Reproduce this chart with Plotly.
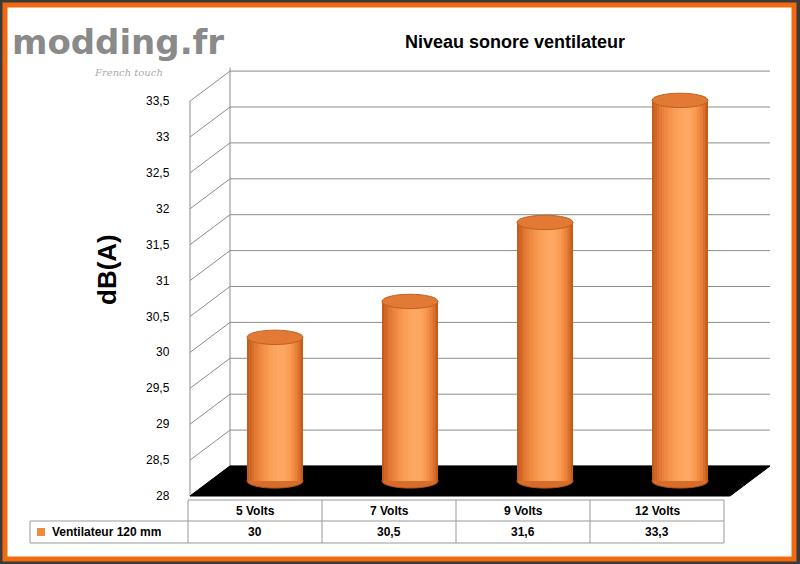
import plotly.graph_objects as go

categories = ["5 Volts", "7 Volts", "9 Volts", "12 Volts"]
values = [30, 30.5, 31.6, 33.3]
series_name = "Ventilateur 120 mm"
tick_values = [28, 28.5, 29, 29.5, 30, 30.5, 31, 31.5, 32, 32.5, 33, 33.5]
title = "Niveau sonore ventilateur"
y_title = "dB(A)"

W, H = 800, 564
Y0PX, PPU = 496, 71.8
def pv(py):
    return 28 + (Y0PX - py) / PPU
DEPTH = 30 / PPU
MID = 0.21

fig = go.Figure()
shapes = []
ann = []

shapes.append(dict(type="rect", xref="paper", yref="paper", x0=0, x1=1, y0=0, y1=1,
                   fillcolor="#3b3b3b", line=dict(width=0), layer="below"))
shapes.append(dict(type="rect", x0=5, x1=794, y0=pv(559), y1=pv(5), fillcolor="white",
                   line=dict(color="#f26a10", width=5), layer="below"))

for v in tick_values:
    shapes.append(dict(type="path", path=f"M 190,{v} L 230,{v+DEPTH} L 770,{v+DEPTH}",
                       line=dict(color="#8c8c8c", width=1), layer="below"))
shapes.append(dict(type="line", x0=230, x1=230, y0=28 + DEPTH, y1=33.5 + DEPTH + 0.05,
                   line=dict(color="#8c8c8c", width=1), layer="below"))
shapes.append(dict(type="line", x0=190, x1=190, y0=28, y1=33.5,
                   line=dict(color="#8c8c8c", width=1), layer="below"))
shapes.append(dict(type="path", path=f"M 190,28 L 730,28 L 770,{28+DEPTH} L 230,{28+DEPTH} Z",
                   fillcolor="black", line=dict(color="black", width=1), layer="below"))

xs = [275 + 135 * i for i in range(len(categories))]
for x in xs:
    shapes.append(dict(type="circle", x0=x - 28, x1=x + 28, y0=28 + MID - 0.1, y1=28 + MID + 0.1,
                       fillcolor="#d66d2a", line=dict(color="#b35418", width=1), layer="below"))

layers = [(56, "#c45d1c"), (52, "#d06626"), (48, "#da702e"), (44, "#e27935"), (40, "#e9813b"),
          (36, "#ee8840"), (32, "#f28e45"), (28, "#f5944a"), (24, "#f89a50"), (20, "#fa9f56"),
          (14, "#fba45c"), (8, "#fca862")]
for w, c in layers:
    fig.add_trace(go.Bar(x=[x + (56 - w) * 0.12 for x in xs], y=[v - 28 for v in values], base=28 + MID, width=w,
                         marker=dict(color=c, line=dict(width=0)), showlegend=False, hoverinfo="skip"))

for x, v in zip(xs, values):
    shapes.append(dict(type="circle", x0=x - 28, x1=x + 28, y0=v + MID - 0.1, y1=v + MID + 0.1,
                       fillcolor="#e27935", line=dict(color="#c0601f", width=1), layer="above"))

for v in tick_values:
    ann.append(dict(x=172, y=v, text=f"{v:g}".replace(".", ","), showarrow=False, xanchor="right",
                    font=dict(size=12, color="black", family="Liberation Sans")))

cols = [30, 188, 322, 456, 590, 724]
ty0, ty1, ty2 = 500, 521, 543
for x in cols[1:]:
    shapes.append(dict(type="line", x0=x, x1=x, y0=pv(ty0), y1=pv(ty2), line=dict(color="#999", width=1)))
shapes.append(dict(type="line", x0=30, x1=30, y0=pv(ty1), y1=pv(ty2), line=dict(color="#999", width=1)))
shapes.append(dict(type="line", x0=188, x1=724, y0=pv(ty0), y1=pv(ty0), line=dict(color="#999", width=1)))
shapes.append(dict(type="line", x0=30, x1=724, y0=pv(ty1), y1=pv(ty1), line=dict(color="#999", width=1)))
shapes.append(dict(type="line", x0=30, x1=724, y0=pv(ty2), y1=pv(ty2), line=dict(color="#999", width=1)))
shapes.append(dict(type="rect", x0=37, x1=45, y0=pv(536), y1=pv(528), fillcolor="#f08a3c",
                   line=dict(width=0)))
for i, (c, v) in enumerate(zip(categories, values)):
    xc = (cols[i + 1] + cols[i + 2]) / 2
    ann.append(dict(x=xc, y=pv(511), text=f"<b>{c}</b>", showarrow=False,
                    font=dict(size=12, color="black", family="Liberation Sans")))
    ann.append(dict(x=xc, y=pv(532), text=f"<b>{v:g}</b>".replace(".", ","), showarrow=False,
                    font=dict(size=12, color="black", family="Liberation Sans")))
ann.append(dict(x=50, y=pv(532), text=f"<b>{series_name}</b>", showarrow=False, xanchor="left",
                font=dict(size=12, color="black", family="Liberation Sans")))

ann.append(dict(x=515, y=pv(42), text=f"<b>{title}</b>", showarrow=False,
                font=dict(size=18, color="black", family="Liberation Sans")))
ann.append(dict(x=107, y=pv(270), text=f"<b>{y_title}</b>", showarrow=False, textangle=-90,
                font=dict(size=26, color="black", family="Liberation Sans")))
ann.append(dict(x=10, y=pv(42), text="<b>modding.fr</b>", showarrow=False, xanchor="left",
                font=dict(size=34, color="#8a8a8a", family="DejaVu Sans")))
ann.append(dict(x=92, y=pv(72), text="<i>French touch</i>", showarrow=False, xanchor="left",
                font=dict(size=10, color="#aaaaaa", family="DejaVu Serif")))

fig.update_layout(
    width=W, height=H, margin=dict(l=0, r=0, t=0, b=0),
    paper_bgcolor="#3b3b3b", plot_bgcolor="rgba(0,0,0,0)",
    barmode="overlay", bargap=0,
    xaxis=dict(range=[0, W], visible=False, fixedrange=True),
    yaxis=dict(range=[pv(H), pv(0)], visible=False, fixedrange=True),
    shapes=shapes, annotations=ann, showlegend=False,
)
fig.write_html("out.html", config={"displayModeBar": False},
               post_script="document.body.style.margin='0';document.body.style.overflow='hidden';")
